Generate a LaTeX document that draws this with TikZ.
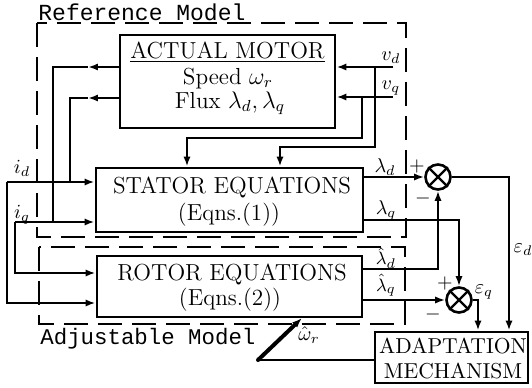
\documentclass[tikz,border=0pt]{standalone}
\usepackage{fontspec}
\newfontfamily\monof{Liberation Mono}
\usetikzlibrary{arrows.meta}
\begin{document}
\begin{tikzpicture}[x=0.5pt,y=-0.5pt,
  box/.style={draw,line width=1.4pt,inner sep=0pt},
  wire/.style={line width=1.3pt},
  arr/.style={wire,-{Latex[length=5pt,width=3.6pt]}},
  frame/.style={line width=0.7pt,dash pattern=on 12pt off 5pt},
  sumj/.style={circle,draw,line width=1.3pt,minimum size=12.5pt,inner sep=0pt},
  btxt/.style={font=\fontsize{11.6}{13}\selectfont,anchor=base,inner sep=0pt},
  lbl/.style={font=\fontsize{10}{12}\selectfont,inner sep=0pt},
  mtxt/.style={font=\monof\fontsize{11.5}{13}\selectfont,anchor=base west,inner sep=0pt}]
\useasboundingbox (0,0) rectangle (532,387);

% frames
\draw[frame] (37,23) rectangle (406,237);
\draw[frame] (39,247) rectangle (405,324);
\node[mtxt] (tref) at (38,20) {Reference Model};
\node[mtxt,font=\monof\fontsize{11.2}{13}\selectfont] (tadj) at (40,344) {Adjustable Model};

% blocks
\node[box,minimum width=107.5pt,minimum height=46.5pt] (motor) at (227.5,81.5) {};
\node[box,minimum width=133.5pt,minimum height=32pt] (stator) at (229.5,200) {};
\node[box,minimum width=132.5pt,minimum height=30.5pt] (rotor) at (229.5,286.5) {};
\node[box,minimum width=76.5pt,minimum height=25.5pt] (adapt) at (451.5,357.5) {};
\node[sumj] (s1) at (438,177) {};
\node[sumj] (s2) at (459,300) {};
\draw[line width=1.2pt] (s1.north west) -- (s1.south east) (s1.north east) -- (s1.south west);
\draw[line width=1.2pt] (s2.north west) -- (s2.south east) (s2.north east) -- (s2.south west);

% block texts
\node[btxt] (t1) at (227.5,58) {\underline{ACTUAL MOTOR}};
\node[btxt] (t2) at (228,84) {Speed $\omega_r$};
\node[btxt] (t3) at (230,108) {Flux $\lambda_d,\lambda_q$};
\node[btxt] (t4) at (232,193) {STATOR EQUATIONS};
\node[btxt] (t5) at (229,220) {(Eqns.(1))};
\node[btxt] (t6) at (232,280) {ROTOR EQUATIONS};
\node[btxt] (t7) at (230,305) {(Eqns.(2))};
\node[btxt,font=\fontsize{10.8}{13}\selectfont] (t8) at (453,353) {ADAPTATION};
\node[btxt,font=\fontsize{10.8}{13}\selectfont] (t9) at (453,378) {MECHANISM};

% motor outputs
\coordinate (oa) at (88,67); \coordinate (ob) at (53,67); \coordinate (oc) at (53,222);
\draw[arr] (motor.west|-oa) -- (oa); \draw[wire] (oa) -- (ob) -- (oc);
\coordinate (pa) at (88,98); \coordinate (pb) at (70,98); \coordinate (pc) at (70,182);
\draw[arr] (motor.west|-pa) -- (pa); \draw[wire] (pa) -- (pb) -- (pc);

% id, iq
\coordinate (id0) at (7,182); \coordinate (id1) at (7,303);
\draw[arr] (id0) -- (stator.west|-id0);
\draw[arr] (id0) -- (id1) -- (rotor.west|-id1);
\coordinate (iq0) at (15,222); \coordinate (iq1) at (15,273);
\draw[arr] (iq0) -- (stator.west|-iq0);
\draw[arr] (iq0) -- (iq1) -- (rotor.west|-iq1);

% vd, vq
\coordinate (vd0) at (393,67); \coordinate (vd1) at (375,67); \coordinate (vd2) at (375,147); \coordinate (vd3) at (280,147);
\draw[arr] (vd0) -- (motor.east|-vd0);
\draw[arr] (vd1) -- (vd2) -- (vd3) -- (stator.north-|vd3);
\coordinate (vq0) at (393,97); \coordinate (vq1) at (362,97); \coordinate (vq2) at (362,138); \coordinate (vq3) at (187,138);
\draw[arr] (vq0) -- (motor.east|-vq0);
\draw[arr] (vq1) -- (vq2) -- (vq3) -- (stator.north-|vq3);

% flux comparisons
\draw[arr] (stator.east|-s1) -- (s1.west);
\coordinate (lq) at (459,220);
\draw[arr] (stator.east|-lq) -- (lq) -- (s2.north);
\coordinate (hd) at (438,269);
\draw[arr] (rotor.east|-hd) -- (hd) -- (s1.south);
\draw[arr] (rotor.east|-s2) -- (s2.west);

% errors
\coordinate (ed) at (509,177);
\draw[arr] (s1.east) -- (ed) -- (adapt.north-|ed);
\coordinate (eq) at (478,300);
\draw[arr] (s2.east) -- (eq) -- (adapt.north-|eq);

% speed estimate
\coordinate (wa) at (258,360); \coordinate (wb) at (302,318);
\draw[wire] (adapt.west|-wa) -- (wa);
\draw[arr,line width=2pt,line cap=round] (wa) -- (wb);

% labels
\node[lbl] (li) at (22,168) {$i_d$};
\node[lbl] (lii) at (22,215) {$i_q$};
\node[lbl] (lvd) at (391,58) {$v_d$};
\node[lbl] (lvq) at (391,88) {$v_q$};
\node[lbl] (lld) at (385,167) {$\lambda_d$};
\node[lbl] (llq) at (386,210) {$\lambda_q$};
\node[lbl,font=\fontsize{9.5}{11}\selectfont] (lhd) at (386,258) {$\hat\lambda_d$};
\node[lbl,font=\fontsize{9.5}{11}\selectfont] (lhq) at (386,285) {$\hat\lambda_q$};
\node[lbl] (leq) at (484,292) {$\varepsilon_q$};
\node[lbl] (led) at (523,250) {$\varepsilon_d$};
\node[lbl] (lw) at (309,335) {$\hat\omega_r$};
\node[lbl] (p1) at (417,166) {$+$};
\node[lbl] (m1) at (423,198) {$-$};
\node[lbl] (p2) at (445,283) {$+$};
\node[lbl] (m2) at (433,314) {$-$};
\end{tikzpicture}
\end{document}
